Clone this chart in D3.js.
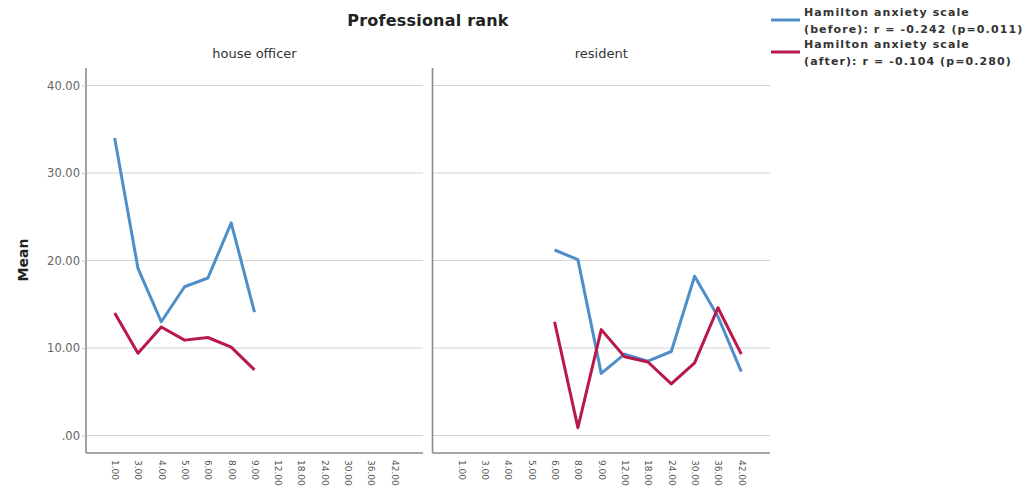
<!DOCTYPE html>
<html>
<head>
<meta charset="utf-8">
<script src="https://cdn.jsdelivr.net/npm/d3@7"></script>
<style>
  body { margin: 0; background: #fff; }
  svg { display: block; }
</style>
</head>
<body>
<div id="chart"></div>
<script>
// x categories (months of experience, as SPSS prints them)
const categories = ['1.00', '3.00', '4.00', '5.00', '6.00', '8.00', '9.00', '12.00', '18.00', '24.00', '30.00', '36.00', '42.00'];
const panels = ['house officer', 'resident'];
const yTicks = [0, 10, 20, 30, 40];

// house officer means
const houseCats = ['1.00', '3.00', '4.00', '5.00', '6.00', '8.00', '9.00'];
const houseBefore = [34.0, 19.1, 13.0, 17.0, 18.0, 24.3, 14.1];
const houseAfter = [14.0, 9.4, 12.4, 10.9, 11.2, 10.1, 7.5];

// resident means
const residentCats = ['6.00', '8.00', '9.00', '12.00', '18.00', '24.00', '30.00', '36.00', '42.00'];
const residentBefore = [21.2, 20.1, 7.1, 9.3, 8.5, 9.6, 18.2, 13.6, 7.3];
const residentAfter = [13.0, 0.9, 12.1, 9.0, 8.4, 5.9, 8.3, 14.6, 9.3];

const seriesNames = ['Hamilton anxiety scale', 'Hamilton anxiety scale'];
const seriesNotes = ['(before): r = -0.242 (p=0.011)', '(after): r = -0.104 (p=0.280)'];
const colors = ['#4f8fc9', '#b8184b'];

const width = 1033;
const height = 490;
const plotTop = 68;
const plotBottom = 453;
const panelX = [[86, 423], [432.5, 770]];

const svg = d3.select('#chart').append('svg')
  .attr('width', width)
  .attr('height', height);

const y = d3.scaleLinear().domain([-2, 42]).range([plotBottom, plotTop]);
const fmt = d => (d === 0 ? '.00' : d3.format('.2f')(d));

// chart title
svg.append('text')
  .attr('x', 428).attr('y', 26)
  .attr('text-anchor', 'middle')
  .style('font', 'bold 16px "DejaVu Sans"')
  .style('letter-spacing', '0.2px')
  .attr('fill', '#222')
  .text('Professional rank');

// y axis title
svg.append('text')
  .attr('transform', 'translate(28,260) rotate(-90)')
  .attr('text-anchor', 'middle')
  .style('font', 'bold 14px "DejaVu Sans"')
  .attr('fill', '#222')
  .text('Mean');

const panelData = [
  { cats: houseCats, before: houseBefore, after: houseAfter },
  { cats: residentCats, before: residentBefore, after: residentAfter },
];

panels.forEach((name, i) => {
  const [x0, x1] = panelX[i];
  const x = d3.scalePoint().domain(categories).range([x0, x1]).padding(1.23);
  const g = svg.append('g');

  // panel label
  g.append('text')
    .attr('x', (x0 + x1) / 2).attr('y', 58)
    .attr('text-anchor', 'middle')
    .style('font', '13px "DejaVu Sans"')
    .attr('fill', '#333')
    .text(name);

  // horizontal gridlines
  g.selectAll('line.grid').data(yTicks).join('line')
    .attr('class', 'grid')
    .attr('x1', x0).attr('x2', x1)
    .attr('y1', d => y(d)).attr('y2', d => y(d))
    .attr('stroke', '#d4d4d4').attr('stroke-width', 1.2);

  // y axis
  const yAxis = d3.axisLeft(y).tickValues(yTicks).tickSize(i === 0 ? 4 : 0).tickFormat(i === 0 ? fmt : '');
  const ya = g.append('g').attr('transform', `translate(${x0},0)`).call(yAxis);
  ya.select('.domain').attr('d', `M0,${plotTop}V${plotBottom}`).attr('stroke', '#8a8a8a').attr('stroke-width', 1.6);
  ya.selectAll('.tick line').attr('stroke', '#c8c8c8');
  ya.selectAll('.tick text')
    .attr('x', -6)
    .style('font', '11.5px "DejaVu Sans"')
    .attr('fill', '#666');

  // x axis
  const xAxis = d3.axisBottom(x).tickSize(0);
  const xa = g.append('g').attr('transform', `translate(0,${plotBottom})`).call(xAxis);
  xa.select('.domain').attr('d', `M${x0},0H${x1}`).attr('stroke', '#8a8a8a').attr('stroke-width', 1.6);
  xa.selectAll('.tick text')
    .attr('transform', 'rotate(90)')
    .attr('x', 7).attr('y', 0).attr('dy', '0.35em')
    .attr('text-anchor', 'start')
    .style('font', '9px "DejaVu Sans"')
    .attr('fill', '#555');

  // series lines
  const p = panelData[i];
  const line = d3.line().x(d => x(d[0])).y(d => y(d[1]));
  [p.before, p.after].forEach((vals, k) => {
    g.append('path')
      .datum(p.cats.map((c, j) => [c, vals[j]]))
      .attr('d', line)
      .attr('fill', 'none')
      .attr('stroke', colors[k])
      .attr('stroke-width', 3)
      .attr('stroke-linejoin', 'round');
  });
});

// legend
const legend = svg.append('g');
seriesNames.forEach((s, k) => {
  const ly = 20 + k * 32;
  legend.append('line')
    .attr('x1', 771).attr('x2', 800)
    .attr('y1', ly).attr('y2', ly)
    .attr('stroke', colors[k]).attr('stroke-width', 3);
  [s, seriesNotes[k]].forEach((t, r) => {
    legend.append('text')
      .attr('x', 804).attr('y', ly - 8 + r * 17).attr('dy', '0.35em')
      .style('font', 'bold 11px "DejaVu Sans"')
      .style('letter-spacing', '1.1px')
      .attr('fill', '#333')
      .text(t);
  });
});
</script>
</body>
</html>
